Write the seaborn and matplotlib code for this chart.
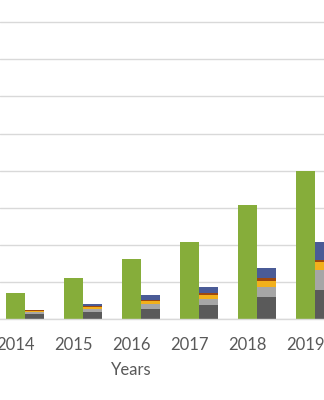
import matplotlib
matplotlib.use("Agg")
import matplotlib.pyplot as plt
import numpy as np
import pandas as pd
import seaborn as sns

# Categories and series values
years = ["2014", "2015", "2016", "2017", "2018", "2019"]
main_total = [35, 55, 81, 104, 154, 200]
seg_dark = [6.3, 9.8, 13.0, 18.5, 30.0, 39.0]
seg_light = [2.7, 4.0, 6.7, 8.5, 13.5, 27.0]
seg_orange = [2.0, 2.7, 4.5, 5.4, 7.7, 10.4]
seg_brown = [1.0, 1.3, 2.0, 2.0, 3.6, 3.1]
seg_blue = [0.7, 2.0, 6.0, 8.4, 13.5, 24.7]

green = "#86ad3a"
layer_colors = ["#5a5a5a", "#a6a6a6", "#f2b01c", "#9e480e", "#4a5b96"]
layers = [seg_dark, seg_light, seg_orange, seg_brown, seg_blue]

hue_order = ["spacer", "main", "stack"]

sns.set_theme(style="whitegrid")
plt.rcParams["font.family"] = ["Lato", "DejaVu Sans"]

fig = plt.figure(figsize=(3.24, 4.0), dpi=100)
ax = fig.add_axes([0, 81 / 400, 1, 319 / 400])


def long_frame(main_vals, stack_vals):
    rows = []
    for i, y in enumerate(years):
        rows.append({"year": y, "series": "spacer", "value": 0.0})
        rows.append({"year": y, "series": "main", "value": main_vals[i]})
        rows.append({"year": y, "series": "stack", "value": stack_vals[i]})
    return pd.DataFrame(rows)


# cumulative tops of the stacked column, drawn tallest first
cum = np.cumsum(np.array(layers), axis=0)
for k in range(len(layers) - 1, -1, -1):
    main_vals = main_total if k == len(layers) - 1 else [0.0] * len(years)
    df = long_frame(main_vals, cum[k])
    sns.barplot(
        data=df, x="year", y="value", hue="series", hue_order=hue_order,
        order=years, dodge=True, width=1.0, errorbar=None, saturation=1,
        palette={"spacer": "white", "main": green, "stack": layer_colors[k]},
        linewidth=0, legend=False, ax=ax,
    )

ax.set_xlim(-0.267, 5.319)
ax.set_ylim(0, 430)
ax.set_yticks(np.arange(0, 401, 50))
ax.set_yticklabels([])
ax.yaxis.grid(True, color="#d9d9d9", linewidth=1)
ax.xaxis.grid(False)
ax.set_axisbelow(True)
for side in ["left", "right", "top"]:
    ax.spines[side].set_visible(False)
ax.spines["bottom"].set_color("#d9d9d9")
ax.spines["bottom"].set_linewidth(1)

ax.tick_params(axis="x", length=0, pad=13, labelsize=12, labelcolor="#595959")
ax.tick_params(axis="y", length=0)
ax.set_ylabel("")
ax.set_xlabel("")
fig.text(131 / 324, (400 - 370) / 400, "Years", ha="center", va="center",
         fontsize=12, color="#595959")

fig.savefig("out.png", dpi=100, facecolor="white")
